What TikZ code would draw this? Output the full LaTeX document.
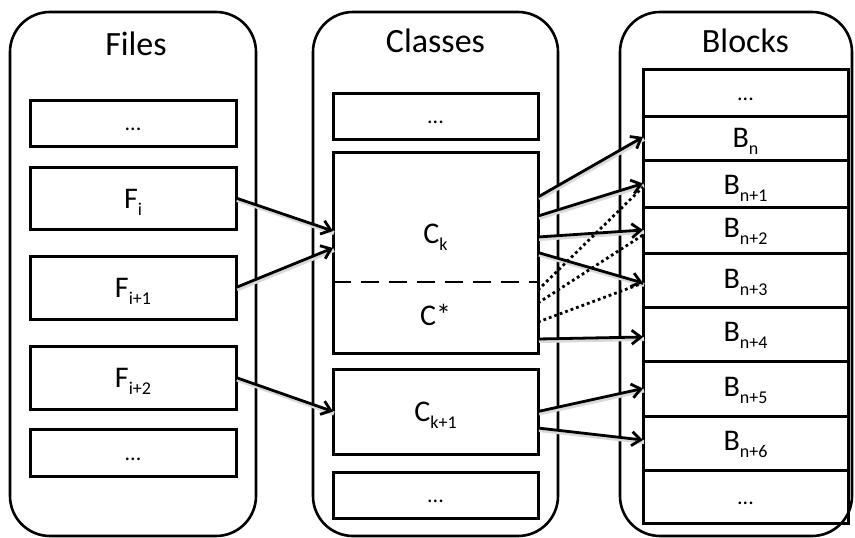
\documentclass[tikz,border=0pt]{standalone}
\usepackage{fontspec}
\setmainfont{Carlito}
\usetikzlibrary{arrows.meta}
\newcommand\sbs[1]{\raisebox{-0.25em}{\fontsize{18}{18}\selectfont #1}}
\tikzset{
  cont/.style={draw, line width=2.6pt, rounded corners=40pt},
  box/.style={draw, line width=3pt, minimum width=205pt, inner sep=0pt, outer sep=0pt,
    font=\fontsize{22}{22}\selectfont, text height=15pt, text depth=0pt},
  ttl/.style={anchor=base, inner sep=0pt, font=\fontsize{34}{34}\selectfont},
  lbl/.style={anchor=base, inner sep=0pt, font=\fontsize{30}{30}\selectfont},
  arr/.style={line width=2.8pt, -{Straight Barb[length=9pt,width=14pt,line width=2.8pt]},
    preaction={draw=black!15, line width=4pt, -, transform canvas={shift={(1pt,-2pt)}}}},
  dotl/.style={line width=2.8pt, dash pattern=on 2.8pt off 3pt},
  dashl/.style={line width=2.8pt, dash pattern=on 18pt off 10pt}
}
\begin{document}
\begin{tikzpicture}[x=1pt,y=-1pt]
\useasboundingbox (0,0) rectangle (855,538);
% containers
\draw[cont] (10,12) rectangle (256,536);
\draw[cont] (313,12) rectangle (558,536);
\draw[cont] (620,12) rectangle (852,536);
\node[ttl] (tf) at (136,55) {Files};
\node[ttl] (tc) at (435.5,52) {Classes};
\node[ttl] (tb) at (745.5,52) {Blocks};
% files
\node[box, minimum width=206pt, minimum height=46pt] (fd1) at (133,123) {...};
\node[box, minimum width=206pt, minimum height=62pt] (Fi) at (133,198) {};
\node[box, minimum width=206pt, minimum height=63pt] (Fi1) at (133,287.5) {};
\node[box, minimum width=206pt, minimum height=63pt] (Fi2) at (133,377.5) {};
\node[box, minimum width=206pt, minimum height=47pt] (fd2) at (133,452.5) {...};
\node[lbl] (lFi) at (133,208) {F\sbs{i}};
\node[lbl] (lFi1) at (133,297) {F\sbs{i+1}};
\node[lbl] (lFi2) at (133,387) {F\sbs{i+2}};
% classes
\node[box, minimum height=46pt] (cd1) at (435.5,116) {...};
\node[box, minimum height=201pt] (Ck) at (435.5,252.5) {};
\node[box, minimum height=85pt] (Ck1) at (435.5,411.5) {};
\node[box, minimum height=46pt] (cd2) at (435.5,495) {...};
\draw[dashl] ([yshift=-29.5pt]Ck.west) -- ([yshift=-29.5pt]Ck.east);
\node[lbl] (lCk) at (435.5,243) {C\sbs{k}};
\node[lbl] (lCs) at (435.5,325) {C*};
\node[lbl] (lCk1) at (435.5,421) {C\sbs{k+1}};
% blocks
\node[box, minimum height=47pt] (bd1) at (745.5,92.5) {...};
\node[box, minimum height=44pt] (Bn) at (745.5,138) {};
\node[box, minimum height=47pt] (Bn1) at (745.5,183.5) {};
\node[box, minimum height=46pt] (Bn2) at (745.5,230) {};
\node[box, minimum height=54pt] (Bn3) at (745.5,280) {};
\node[box, minimum height=54pt] (Bn4) at (745.5,334) {};
\node[box, minimum height=55pt] (Bn5) at (745.5,388.5) {};
\node[box, minimum height=54pt] (Bn6) at (745.5,443) {};
\node[box, minimum height=53pt] (bd2) at (745.5,496.5) {...};
\node[lbl] (lBn) at (745.5,147) {B\sbs{n}};
\node[lbl] (lBn1) at (745.5,194) {B\sbs{n+1}};
\node[lbl] (lBn2) at (745.5,237) {B\sbs{n+2}};
\node[lbl] (lBn3) at (745.5,288) {B\sbs{n+3}};
\node[lbl] (lBn4) at (745.5,341) {B\sbs{n+4}};
\node[lbl] (lBn5) at (745.5,396) {B\sbs{n+5}};
\node[lbl] (lBn6) at (745.5,450) {B\sbs{n+6}};
% file -> class
\draw[arr] (Fi.east) -- ([yshift=21.5pt]Ck.west);
\draw[arr] (Fi1.east) -- ([yshift=4.5pt]Ck.west);
\draw[arr] (Fi2.east) -- (Ck1.west);
% class -> block
\draw[arr] ([yshift=55.5pt]Ck.east) -- ([yshift=1pt]Bn.west);
\draw[arr] ([yshift=36.5pt]Ck.east) -- (Bn1.west);
\draw[arr] ([yshift=15.5pt]Ck.east) -- (Bn2.west);
\draw[arr] (Ck.east) -- ([yshift=-3pt]Bn3.west);
\draw[dotl] ([yshift=-37.5pt]Ck.east) -- ([yshift=-3.5pt]Bn1.west);
\draw[dotl] ([yshift=-50.5pt]Ck.east) -- ([yshift=-5pt]Bn2.west);
\draw[dotl] ([yshift=-69.5pt]Ck.east) -- ([yshift=-3pt]Bn3.west);
\draw[arr] ([yshift=-86.5pt]Ck.east) -- ([yshift=-3pt]Bn4.west);
\draw[arr] (Ck1.east) -- (Bn5.west);
\draw[arr] ([yshift=-16.5pt]Ck1.east) -- ([yshift=3pt]Bn6.west);
\end{tikzpicture}
\end{document}
